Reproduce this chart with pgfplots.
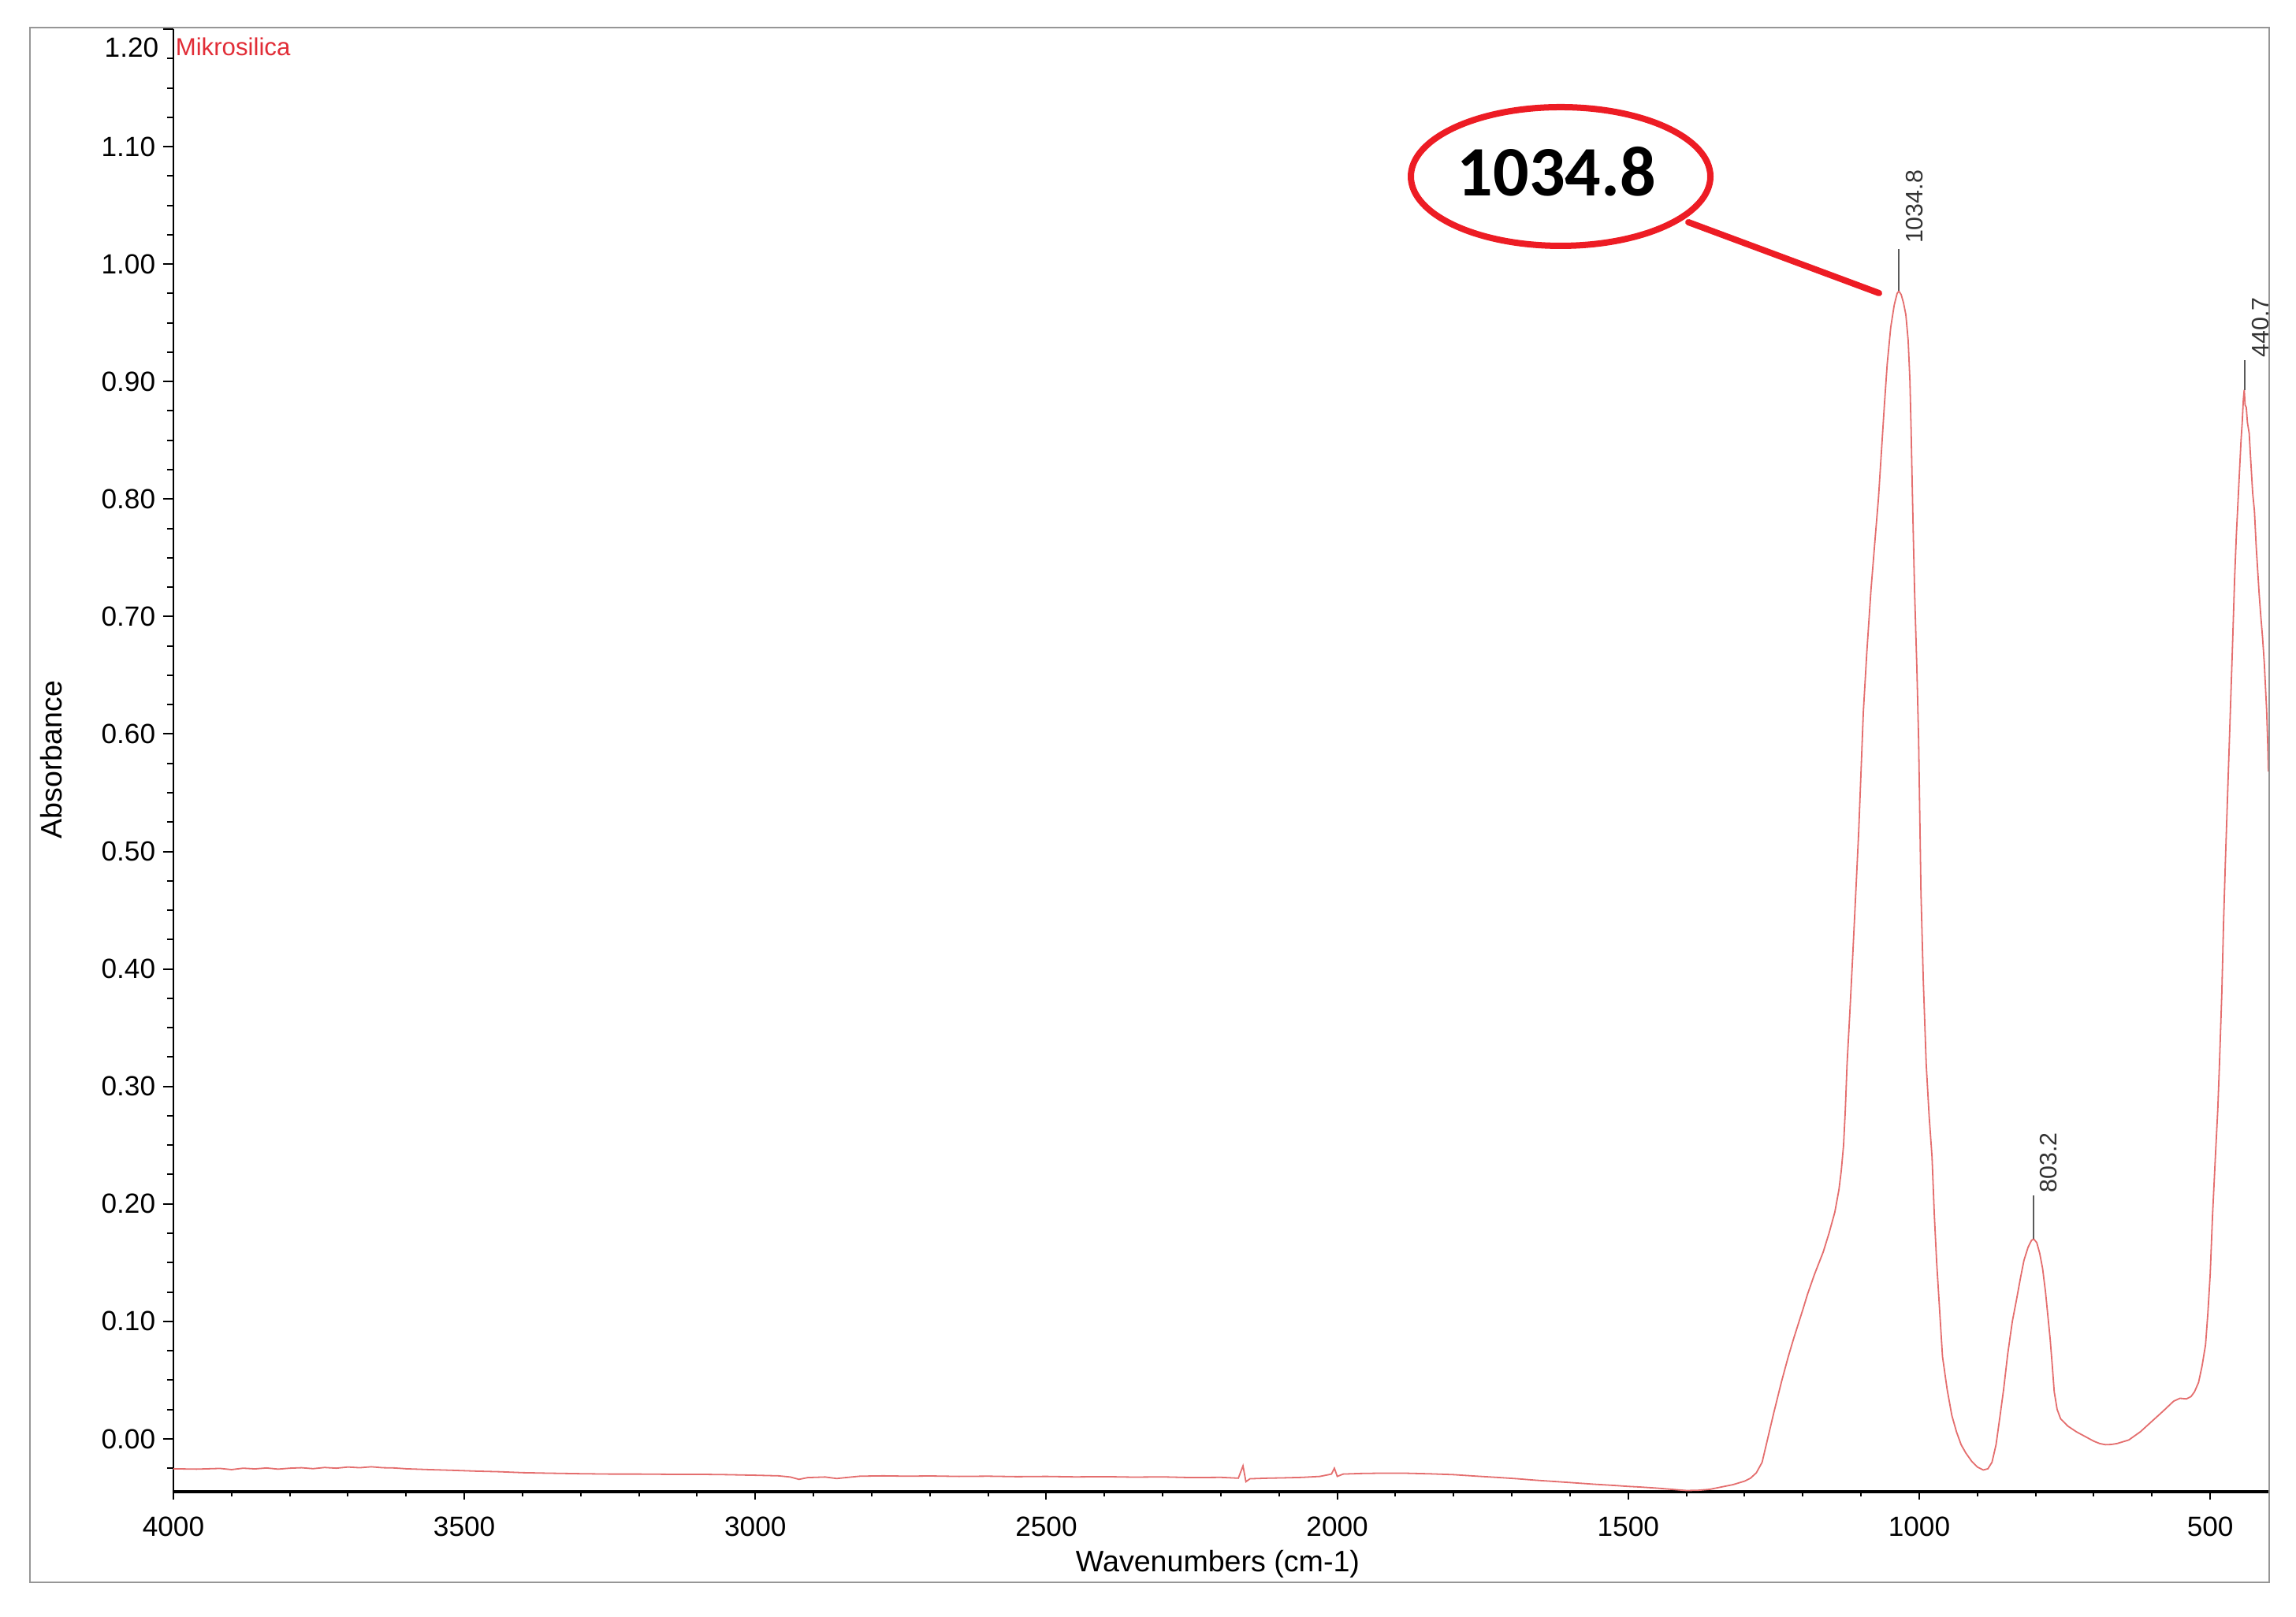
\documentclass[border=0pt]{standalone}
\usepackage{pgfplots}
\pgfplotsset{compat=1.18}
\usepackage{fontspec}
\setmainfont{Liberation Sans}
\newfontfamily\calib{Carlito}
\definecolor{spec}{RGB}{228,110,110}
\definecolor{annot}{RGB}{237,28,36}
\definecolor{framegray}{RGB}{150,150,150}
\definecolor{mik}{RGB}{225,45,55}
\definecolor{pkline}{RGB}{90,90,90}

\pgfplotstableread{
wn A
4000 -0.0255
3960 -0.0258
3920 -0.0252
3900 -0.0262
3880 -0.0250
3860 -0.0256
3840 -0.0248
3820 -0.0258
3800 -0.0250
3780 -0.0246
3760 -0.0254
3740 -0.0244
3720 -0.0250
3700 -0.0240
3680 -0.0246
3660 -0.0238
3640 -0.0246
3620 -0.0248
3600 -0.0255
3560 -0.0262
3520 -0.0268
3480 -0.0275
3440 -0.0280
3400 -0.0288
3360 -0.0292
3300 -0.0297
3250 -0.0300
3200 -0.0300
3150 -0.0302
3100 -0.0302
3050 -0.0305
3000 -0.0310
2960 -0.0315
2940 -0.0325
2925 -0.0345
2910 -0.0330
2880 -0.0325
2860 -0.0338
2845 -0.0330
2820 -0.0318
2780 -0.0315
2740 -0.0318
2700 -0.0316
2650 -0.0320
2600 -0.0318
2550 -0.0322
2500 -0.0320
2450 -0.0324
2400 -0.0322
2350 -0.0326
2300 -0.0324
2250 -0.0330
2200 -0.0328
2170 -0.0335
2162 -0.0230
2157 -0.0365
2150 -0.0340
2120 -0.0335
2090 -0.0332
2060 -0.0328
2030 -0.0320
2010 -0.0300
2005 -0.0250
2000 -0.0320
1990 -0.0300
1960 -0.0295
1920 -0.0292
1880 -0.0293
1840 -0.0298
1800 -0.0305
1760 -0.0318
1720 -0.0330
1690 -0.0340
1660 -0.0352
1630 -0.0362
1600 -0.0372
1560 -0.0386
1520 -0.0398
1500 -0.0405
1480 -0.0410
1450 -0.0420
1420 -0.0432
1400 -0.0440
1380 -0.0438
1360 -0.0430
1340 -0.0410
1320 -0.0390
1300 -0.0360
1290 -0.0335
1280 -0.0290
1270 -0.0200
1260 0.0010
1250 0.0220
1237 0.0480
1225 0.0700
1216 0.0850
1200 0.1100
1192 0.1230
1180 0.1400
1165 0.1590
1155 0.1750
1145 0.1930
1138 0.2120
1134 0.2280
1130 0.2500
1127 0.2800
1124 0.3190
1119 0.3650
1114 0.4140
1109 0.4650
1104 0.5170
1100 0.5680
1096 0.6190
1090 0.6700
1083 0.7220
1076 0.7650
1070 0.8010
1065 0.8400
1060 0.8790
1055 0.9150
1049 0.9460
1043 0.9650
1038 0.9750
1035 0.9770
1031 0.9740
1027 0.9670
1023 0.9570
1019 0.9350
1016 0.9010
1014 0.8600
1012 0.8110
1010 0.7650
1008 0.7220
1004 0.6550
1001 0.5940
997 0.4650
993 0.3900
988 0.3190
983 0.2750
978 0.2400
974 0.1900
970 0.1500
965 0.1100
960 0.0700
952 0.0420
944 0.0200
936 0.0060
928 -0.0050
920 -0.0120
910 -0.0190
900 -0.0240
890 -0.0265
882 -0.0255
875 -0.0200
868 -0.0050
861 0.0200
855 0.0420
848 0.0720
840 0.1000
833 0.1180
826 0.1370
820 0.1520
813 0.1630
807 0.1690
803 0.1700
798 0.1670
793 0.1580
788 0.1450
783 0.1250
779 0.1050
775 0.0850
771 0.0600
768 0.0400
763 0.0250
757 0.0170
745 0.0110
730 0.0060
715 0.0020
700 -0.0020
690 -0.0040
680 -0.0050
670 -0.0048
660 -0.0040
650 -0.0025
640 -0.0010
620 0.0060
600 0.0150
580 0.0240
563 0.0320
552 0.0345
541 0.0340
533 0.0360
527 0.0400
520 0.0480
514 0.0620
508 0.0800
504 0.1070
500 0.1400
496 0.1900
491 0.2410
487 0.2800
484 0.3200
480 0.3800
477 0.4400
474 0.4900
470 0.5500
466 0.6100
462 0.6700
458 0.7330
455 0.7700
452 0.8000
449 0.8300
447 0.8500
445 0.8650
443 0.8850
441.5 0.8930
440 0.8800
438 0.8780
436 0.8650
433 0.8560
430 0.8300
427 0.8050
424 0.7900
421 0.7600
419 0.7440
416 0.7200
413 0.7000
410 0.6820
407 0.6600
405 0.6400
403 0.6200
401 0.5900
400 0.5680
}\spectrum

\begin{document}
\begin{tikzpicture}
\useasboundingbox (-55pt,-39.75pt) rectangle (673.25pt,473.25pt);
\begin{axis}[
  at={(0pt,0pt)}, anchor=south west,
  scale only axis, width=664.5pt, height=464pt,
  x dir=reverse, xmin=400, xmax=4000, ymin=-0.045, ymax=1.2,
  axis x line*=bottom, axis y line*=left, axis line style={-},
  x axis line style={line width=0.85pt, black},
  y axis line style={line width=0.7pt, black},
  xtick={500,1000,1500,2000,2500,3000,3500,4000},
  xticklabels={500,1000,1500,2000,2500,3000,3500,4000},
  minor x tick num=4,
  ytick={0,0.1,0.2,0.3,0.4,0.5,0.6,0.7,0.8,0.9,1.0,1.1,1.2},
  yticklabels={0.00,0.10,0.20,0.30,0.40,0.50,0.60,0.70,0.80,0.90,1.00,1.10,{}},
  minor ytick={-0.025,0.025,0.05,0.075,0.125,0.15,0.175,0.225,0.25,0.275,0.325,0.35,0.375,0.425,0.45,0.475,0.525,0.55,0.575,0.625,0.65,0.675,0.725,0.75,0.775,0.825,0.85,0.875,0.925,0.95,0.975,1.025,1.05,1.075,1.125,1.15,1.175},
  tick align=outside,
  xtick style={line width=0.5pt, black, /pgfplots/major tick length=2.5pt, /pgfplots/minor tick length=1.5pt},
  ytick style={line width=0.5pt, black, /pgfplots/major tick length=3.25pt, /pgfplots/minor tick length=2pt},
  ticklabel style={font=\fontsize{8.8pt}{10pt}\selectfont, inner sep=0pt},
  xticklabel style={anchor=north, yshift=-3.5pt},
  yticklabel style={anchor=east, xshift=-1.25pt},
  clip=true,
]
\addplot[spec, line width=0.45pt] table[x=wn, y=A] {\spectrum};
% peak markers
\draw[pkline, line width=0.4pt] (axis cs:1034.8,0.977) -- (axis cs:1034.8,1.013);
\node[rotate=90, anchor=north west, inner sep=0pt, text=black!80, font=\fontsize{7.6pt}{9pt}\selectfont] at (axis cs:1024,1.017) {1034.8};
\draw[pkline, line width=0.4pt] (axis cs:803.2,0.170) -- (axis cs:803.2,0.207);
\node[rotate=90, anchor=north west, inner sep=0pt, text=black!80, font=\fontsize{7.6pt}{9pt}\selectfont] at (axis cs:794,0.209) {803.2};
\draw[pkline, line width=0.4pt] (axis cs:440.7,0.893) -- (axis cs:440.7,0.918);
\node[rotate=90, anchor=north west, inner sep=0pt, text=black!80, font=\fontsize{7.6pt}{9pt}\selectfont] at (axis cs:429,0.920) {440.7};
\end{axis}
% top tick label
\node[anchor=east, inner sep=0pt, font=\fontsize{8.8pt}{10pt}\selectfont] at (-4.5pt,458.25pt) {1.20};
% series name
\node[anchor=west, inner sep=0pt, text=mik, font=\fontsize{7.8pt}{9pt}\selectfont] at (0.5pt,458.5pt) {Mikrosilica};
% axis labels
\node[font=\fontsize{9.4pt}{11pt}\selectfont] at (331.25pt,-23pt) {Wavenumbers (cm-1)};
\node[rotate=90, font=\fontsize{9.4pt}{11pt}\selectfont] at (-38.75pt,232.25pt) {Absorbance};
% outer frame
\draw[framegray, line width=0.6pt] (-45.5pt,-28.75pt) rectangle (664.75pt,464.5pt);
% callout
\draw[annot, line width=2pt] (440pt,417.25pt) ellipse [x radius=47.5pt, y radius=22pt];
\draw[annot, line width=2pt, line cap=round] (480.5pt,402.75pt) -- (541pt,380.25pt);
\node[inner sep=0pt, font=\calib\bfseries\fontsize{22.5pt}{24pt}\selectfont] at (438.75pt,418.75pt) {1034.8};
\end{tikzpicture}
\end{document}
